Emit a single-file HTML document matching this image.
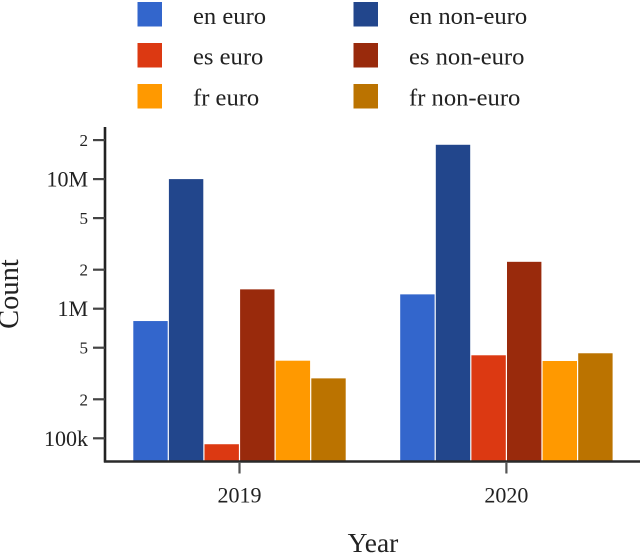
<!DOCTYPE html>
<html lang="en">
<head>
<meta charset="utf-8">
<title>Count by year</title>
<style>
html,body{margin:0;padding:0;background:#fff;width:640px;height:553px;overflow:hidden}
svg{display:block}
text{font-family:"Liberation Serif",serif;fill:#222}
</style>
</head>
<body>
<svg id="chart" width="640" height="553" viewBox="0 0 640 553" xmlns="http://www.w3.org/2000/svg"></svg>
<script>
const years = ['2019', '2020'];
const seriesNames = ['en euro', 'en non-euro', 'es euro', 'es non-euro', 'fr euro', 'fr non-euro'];
const seriesColors = ['#3366cc', '#22468c', '#dc3912', '#992a0c', '#ff9900', '#bb7300'];
const enEuro = [803000, 1290000];
const enNonEuro = [10000000, 18400000];
const esEuro = [90000, 437000];
const esNonEuro = [1410000, 2300000];
const frEuro = [397000, 395000];
const frNonEuro = [290000, 453000];
const seriesValues = [enEuro, enNonEuro, esEuro, esNonEuro, frEuro, frNonEuro];
const yTickValues = [20000000, 10000000, 5000000, 2000000, 1000000, 500000, 200000, 100000];
const yTickLabels = ['2', '10M', '5', '2', '1M', '5', '2', '100k'];

const svg = document.getElementById('chart');
const NS = 'http://www.w3.org/2000/svg';
function make(tag, attrs, text) {
  const el = document.createElementNS(NS, tag);
  for (const k in attrs) el.setAttribute(k, attrs[k]);
  if (text !== undefined) el.textContent = text;
  svg.appendChild(el);
  return el;
}
const baseY = 461;
function yScale(v) { return 438.3 - 129.6 * Math.log10(v / 100000); }
function groupCenter(i) { return 239.5 + 266.9 * i; }
const barStep = 35.6;
const barWidth = 34.4;
function barX(groupIndex, seriesIndex) {
  return groupCenter(groupIndex) + (seriesIndex - 3) * barStep + (barStep - barWidth) / 2;
}

// legend
seriesNames.forEach(function (name, s) {
  const col = s % 2;
  const row = Math.floor(s / 2);
  const swatch = make('rect', {x: 137.5 + col * 216, y: 2 + row * 41, width: 24.5, height: 24.5, fill: seriesColors[s]});
  
  
  const label = make('text', {x: 193 + col * 216, y: 24 + row * 40.7, 'font-size': 24.6}, name);
  
  
});

// bars
seriesValues.forEach(function (values, s) {
  values.forEach(function (v, g) {
    const top = yScale(v);
    const bar = make('rect', {x: barX(g, s), y: top, width: barWidth, height: baseY - top, fill: seriesColors[s]});
    
    
  });
});

// y axis
const yAxis = make('line', {x1: 105, y1: 127, x2: 105, y2: 462.5, stroke: '#222', 'stroke-width': 2.6});


yTickValues.forEach(function (v, i) {
  const y = yScale(v);
  const tick = make('line', {x1: 93, y1: y, x2: 105, y2: y, stroke: '#444', 'stroke-width': 2.2});
  
  
  const major = yTickLabels[i].length > 1;
  const label = make('text', {x: 88, y: y + (major ? 7.5 : 6), 'text-anchor': 'end', 'font-size': major ? 22 : 17}, yTickLabels[i]);
  
  
});

// x axis
const xAxis = make('line', {x1: 104, y1: 461.5, x2: 640, y2: 461.5, stroke: '#2a2a2a', 'stroke-width': 2.6});


years.forEach(function (year, g) {
  const x = groupCenter(g);
  const tick = make('line', {x1: x, y1: 462, x2: x, y2: 473.5, stroke: '#555', 'stroke-width': 2.2});
  
  
  const label = make('text', {x: x, y: 502.5, 'text-anchor': 'middle', 'font-size': 22}, year);
  
  
});

// axis titles
const xTitle = make('text', {x: 373, y: 552, 'text-anchor': 'middle', 'font-size': 27.5}, 'Year');


const yTitle = make('text', {x: 0, y: 0, transform: 'translate(18,294) rotate(-90)', 'text-anchor': 'middle', 'font-size': 28.5}, 'Count');


</script>
</body>
</html>
